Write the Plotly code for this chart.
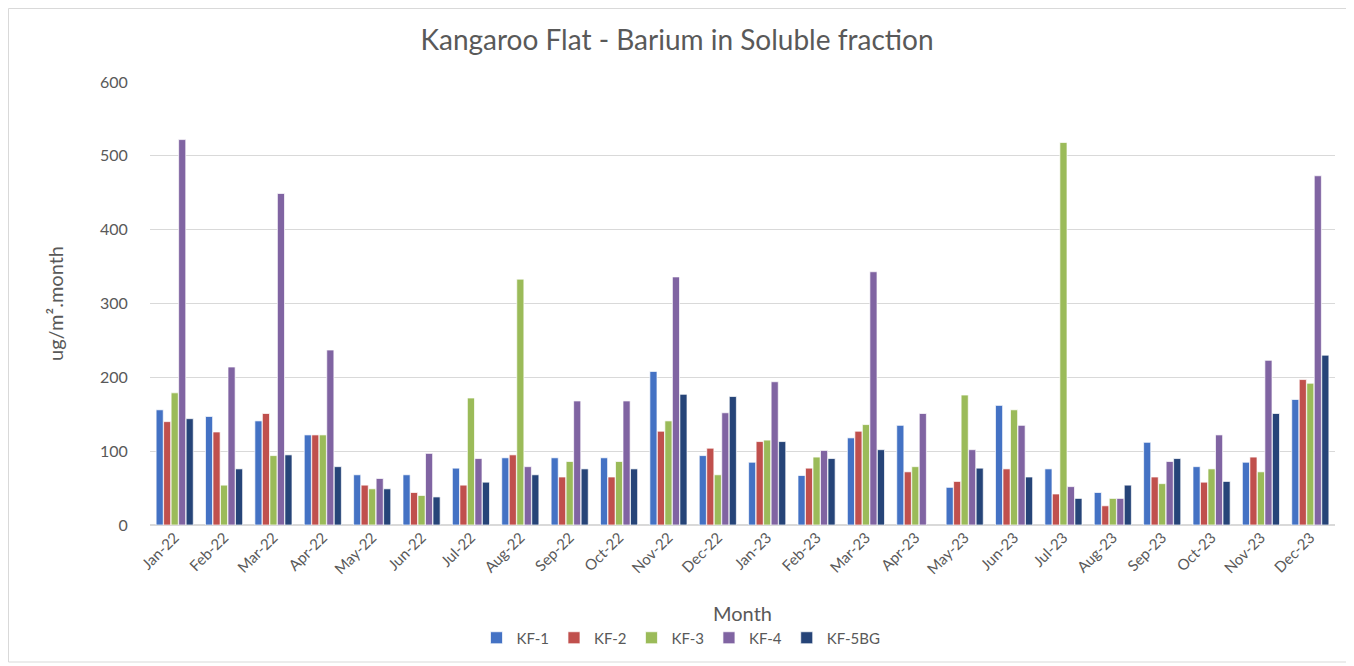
import plotly.graph_objects as go

months = ['Jan-22', 'Feb-22', 'Mar-22', 'Apr-22', 'May-22', 'Jun-22', 'Jul-22', 'Aug-22',
          'Sep-22', 'Oct-22', 'Nov-22', 'Dec-22', 'Jan-23', 'Feb-23', 'Mar-23', 'Apr-23',
          'May-23', 'Jun-23', 'Jul-23', 'Aug-23', 'Sep-23', 'Oct-23', 'Nov-23', 'Dec-23']

kf1 = [156, 147, 141, 122, 68, 68, 77, 91, 91, 91, 208, 94,
       85, 67, 118, 135, 51, 162, 76, 44, 112, 79, 85, 170]
kf2 = [140, 126, 151, 122, 54, 44, 54, 95, 65, 65, 127, 104,
       113, 77, 127, 72, 59, 76, 42, 26, 65, 58, 92, 197]
kf3 = [179, 54, 94, 122, 49, 40, 172, 333, 86, 86, 141, 68,
       115, 92, 136, 79, 176, 156, 518, 36, 56, 76, 72, 192]
kf4 = [522, 214, 449, 237, 63, 97, 90, 79, 168, 168, 336, 152,
       194, 101, 343, 151, 102, 135, 52, 36, 86, 122, 223, 473]
kf5 = [144, 76, 95, 79, 49, 38, 58, 68, 76, 76, 177, 174,
       113, 90, 102, None, 77, 65, 36, 54, 90, 59, 151, 230]

series = {'KF-1': kf1, 'KF-2': kf2, 'KF-3': kf3, 'KF-4': kf4, 'KF-5BG': kf5}
colors = {'KF-1': '#4472C4', 'KF-2': '#C0504D', 'KF-3': '#9BBB59',
          'KF-4': '#8064A2', 'KF-5BG': '#264478'}

# page body has an 8px default margin, so the figure is shrunk and shifted to compensate
OFF = 8
W, H = 1354 - OFF, 666 - OFF
ml, mt = 150 - OFF, 82 - OFF
pw, ph = 1185, 443
mr, mb = W - ml - pw, H - mt - ph
font = 'Lato, "Open Sans", sans-serif'
grey = '#595959'

fig = go.Figure()
for name, vals in series.items():
    fig.add_trace(go.Bar(x=months, y=vals, name=name,
                         marker=dict(color=colors[name], line=dict(color='rgba(255,255,255,0.7)', width=1))))

# outer chart border (Excel chart area), figure px -> paper coords
def px_x(v):
    return (v - ml) / pw

def px_y(v):
    return (H - mb - v) / ph

fig.add_shape(type='rect', xref='paper', yref='paper',
              x0=px_x(0.5), x1=px_x(W - 5), y0=px_y(H - 4), y1=px_y(0.5),
              line=dict(color='#d9d9d9', width=1))

fig.update_layout(
    width=W, height=H,
    margin=dict(l=ml, r=mr, t=mt, b=mb),
    paper_bgcolor='white', plot_bgcolor='white',
    font=dict(family=font, color=grey),
    barmode='group', bargap=0.24, bargroupgap=0.05,
    title=dict(text='Kangaroo Flat - Barium in Soluble fraction', x=px_x(677 - OFF), xref='paper',
               xanchor='center', y=1 - (40 - OFF) / H, yanchor='middle',
               font=dict(size=28, color=grey)),
    legend=dict(orientation='h', x=px_x(681 - OFF), xanchor='center',
                y=px_y(638 - OFF), yanchor='middle',
                font=dict(size=15, color=grey), itemwidth=30, traceorder='normal'),
    xaxis=dict(title=dict(text='Month', font=dict(size=20, color=grey), standoff=30),
               tickangle=-45, tickfont=dict(size=15, color=grey),
               showline=False, showgrid=False),
    yaxis=dict(title=dict(text='ug/m².month', font=dict(size=20, color=grey), standoff=30),
               range=[0, 600], dtick=100, tickfont=dict(size=16, color=grey),
               gridcolor='#d9d9d9', zeroline=True, zerolinecolor='#d9d9d9',
               ticks='outside', ticklen=18, tickcolor='rgba(0,0,0,0)'),
)

fig.write_html('out.html')
